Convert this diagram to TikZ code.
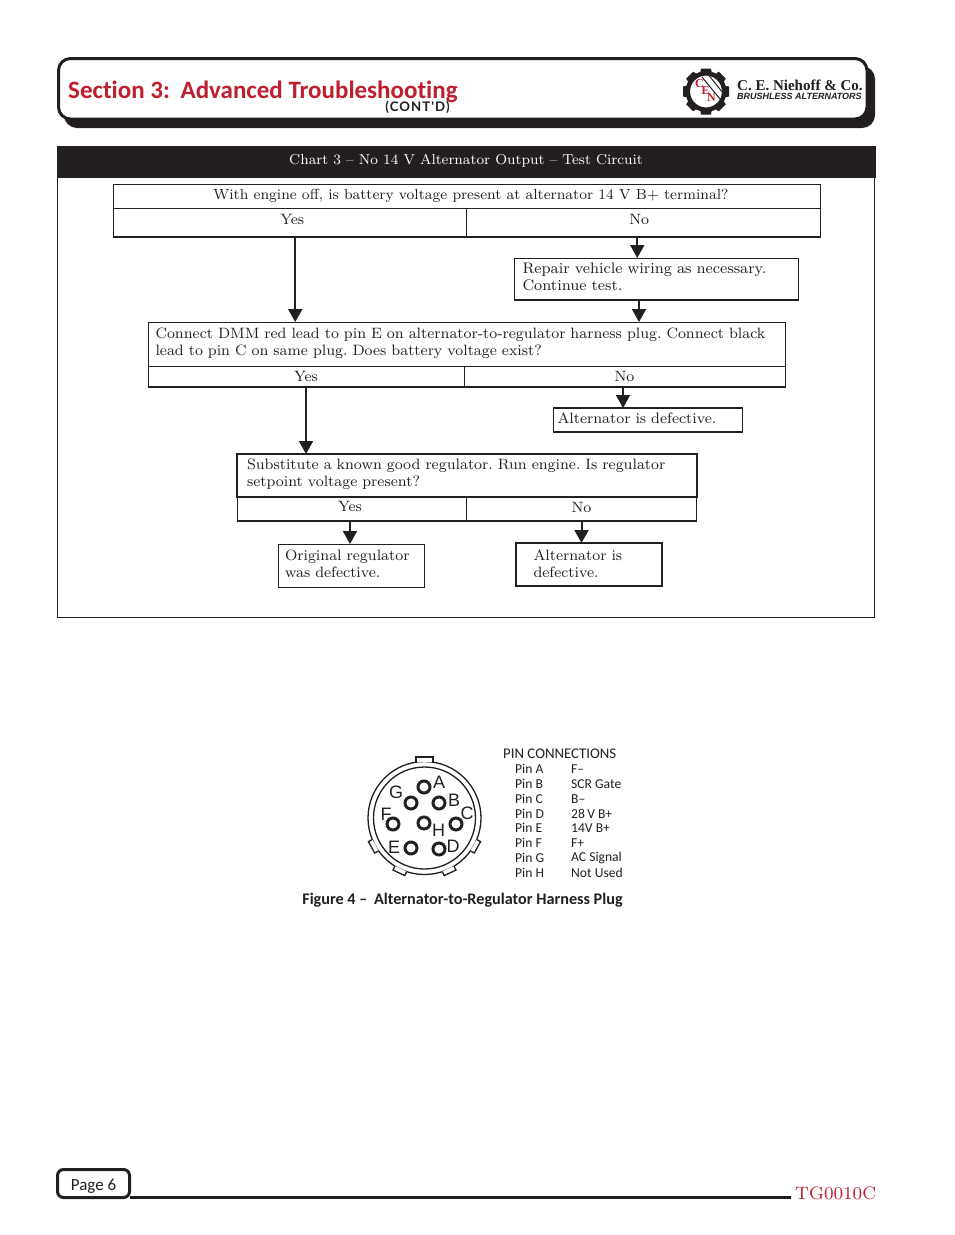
\documentclass[tikz,border=0pt]{standalone}
\usepackage{fontspec}
\usetikzlibrary{arrows.meta}
\setmainfont{lmroman8-regular.otf}
\newfontfamily\gillfont[Ligatures=CommonOff]{Carlito}
\newfontfamily\latofont[LetterSpace=8]{Lato}
\newfontfamily\arialfont{Liberation Sans}
\newfontfamily\timesfont{Liberation Serif}
\definecolor{inkdark}{HTML}{231F20}
\definecolor{sectred}{HTML}{BE1E2D}
\newcommand{\lift}[1]{\rule[-#1]{0pt}{#1}}
\frenchspacing

\tikzset{
  qbox/.style={draw=inkdark,rectangle,line width=0.9pt,inner sep=0pt,outer sep=0pt,
               font=\fontsize{15}{17}\selectfont,text=inkdark},
  textbox/.style={qbox,align=left,inner xsep=7pt},
  thickbox/.style={textbox,line width=2pt},
  heavy/.style={draw=inkdark,line width=2pt},
  flow/.style={heavy,-{Triangle[width=14pt,length=13pt]}},
  plug/.style={draw=inkdark,line width=1.3pt},
  pinhole/.style={draw=inkdark,circle,line width=3pt,minimum size=12pt,inner sep=0pt},
  pinname/.style={font=\arialfont\fontsize{18}{18}\selectfont,text=inkdark,inner sep=0pt},
  pintext/.style={font=\gillfont\fontsize{13.6}{13}\selectfont,text=inkdark,anchor=west,inner sep=0pt},
  logoletter/.style={inner sep=0pt,text=sectred,font=\timesfont\bfseries\fontsize{12}{12}\selectfont}}

\begin{document}
\begin{tikzpicture}[x=1pt,y=-1pt]
\useasboundingbox (0,0) rectangle (954,1235);

% page header
\fill [inkdark,rounded corners=13pt] (64,66) rectangle (875,128);
\draw [inkdark,fill=white,line width=3pt,rounded corners=12pt] (58.5,58.5) rectangle (867,119);
\node (section) at (68,91.5) [anchor=west,inner sep=0pt,text=sectred,font=\gillfont\bfseries\fontsize{25}{25}\selectfont] {Section 3:\hspace{5pt} Advanced Troubleshooting};
\node (contd) at (417.5,107.5) [inner sep=0pt,text=inkdark,font=\latofont\bfseries\fontsize{13.2}{12}\selectfont] {(CONT'D)};

% logo
\foreach \a in {0,45,...,315}
  \fill [inkdark,rotate around={\a:(706,91.5)}] (700,74) -- (701,68.5) -- (711,68.5) -- (712,74) -- cycle;
\draw [inkdark,fill=white,line width=4.5pt] (706,91.5) circle [radius=18.2pt];
\draw [inkdark,line width=1pt] (702,77) -- (720,99) (709,75.5) -- (723,93);
\node (logoc) at (699.5,84) [logoletter] {C};
\node (logoe) at (705.5,91) [logoletter] {E};
\node (logon) at (711.5,98) [logoletter] {N};
\fill [inkdark] (723.5,105) circle [radius=1pt];
\node (company) at (737,85) [anchor=west,inner sep=0pt,text=inkdark,font=\timesfont\bfseries\fontsize{15}{15}\selectfont] {C. E. Niehoff \& Co.};
\node (brushless) at (737,96.5) [anchor=west,inner sep=0pt,text=inkdark,font=\arialfont\bfseries\itshape\fontsize{9}{9}\selectfont] {BRUSHLESS ALTERNATORS};

% chart frame
\draw [inkdark,line width=0.9pt] (57,146) rectangle (874.5,617.5);
\node (chart) at (466,162) [fill=inkdark,minimum width=819pt,minimum height=32pt,inner sep=0pt,text=white,font=\fontsize{14.4}{17}\selectfont,text depth=6pt] {Chart 3 -- No 14 V Alternator Output -- Test Circuit};

% first question
\node (qone) at (466.5,196) [qbox,minimum width=707pt,minimum height=24pt,font=\fontsize{14.65}{17}\selectfont] {\hspace*{9pt}With engine off, is battery voltage present at alternator 14 V B+ terminal?};
\node (qoneyes) at (289.75,222.5) [qbox,minimum width=353.5pt,minimum height=29pt] {\hspace*{5pt}Yes\lift{7pt}};
\node (qoneno) at (643.25,222.5) [qbox,minimum width=353.5pt,minimum height=29pt] {No\hspace*{8pt}\lift{7pt}};
\draw [heavy] (qoneyes.south west) -- (qoneno.south east);
\node (repair) at (656.5,279) [textbox,minimum width=283pt,minimum height=42pt,text width=268pt,inner xsep=8pt,font=\fontsize{15.3}{17}\selectfont] {Repair vehicle wiring as necessary.\\Continue test.\lift{5pt}};
\draw [heavy] (repair.south west) -- (repair.south east);

% second question
\node (qtwo) at (466.5,344) [textbox,minimum width=637pt,minimum height=44pt,text width=622pt] {Connect DMM red lead to pin E on alternator-to-regulator harness plug. Connect black\\lead to pin C on same plug. Does battery voltage exist?\lift{5pt}};
\node (qtwoyes) at (306,376.5) [qbox,minimum width=316pt,minimum height=21pt] {Yes\lift{1pt}};
\node (qtwono) at (624.5,376.5) [qbox,minimum width=321pt,minimum height=21pt] {No};
\draw [heavy] (qtwoyes.south west) -- (qtwono.south east);
\node (defectone) at (648,420) [thickbox,minimum width=187pt,minimum height=24pt,text width=181pt,inner xsep=4pt,line width=1.5pt] {Alternator is defective.\lift{4pt}};

% third question
\node (qthree) at (467,475.5) [thickbox,line width=1.6pt,minimum width=460pt,minimum height=43pt,text width=440pt,inner xsep=10pt] {Substitute a known good regulator. Run engine. Is regulator\\setpoint voltage present?\lift{6pt}};
\node (qthreeyes) at (352,509) [qbox,line width=1.6pt,minimum width=229pt,minimum height=24pt] {\hspace*{-4pt}Yes\lift{6pt}};
\node (qthreeno) at (581.5,509) [qbox,line width=1.6pt,minimum width=230pt,minimum height=24pt] {No\lift{3pt}};
\node (original) at (351,565.5) [textbox,minimum width=146pt,minimum height=43pt,text width=132pt] {Original regulator\\was defective.\lift{4pt}};
\node (defecttwo) at (588.5,564.5) [thickbox,minimum width=146pt,minimum height=43pt,text width=110pt,inner xsep=18pt] {Alternator is\\defective.\lift{2pt}};

% connectors
\draw [flow] ([xshift=5.5pt]qoneyes.south) -- ([xshift=5.5pt]qoneyes.south |- qtwo.north);
\draw [flow] ([xshift=-6pt]qoneno.south) -- ([xshift=-6pt]qoneno.south |- repair.north);
\draw [flow] ([xshift=-17.5pt]repair.south) -- ([xshift=-17.5pt]repair.south |- qtwo.north);
\draw [flow] (qtwoyes.south) -- (qtwoyes.south |- qthree.north);
\draw [flow] ([xshift=-1.5pt]qtwono.south) -- ([xshift=-1.5pt]qtwono.south |- defectone.north);
\draw [flow] ([xshift=-2pt]qthreeyes.south) -- ([xshift=-2pt]qthreeyes.south |- original.north);
\draw [flow] (qthreeno.south) -- (qthreeno.south |- defecttwo.north);

% harness plug
\draw [plug] (424.5,818) circle [radius=56.5pt];
\draw [plug] (424.5,818) circle [radius=51pt];
\draw [plug,fill=white] (416,762) -- (416,757) -- (433,757) -- (433,762);
\foreach \a in {209,245,295,331}
  \draw [plug,fill=white,rotate around={\a-90:(424.5,818)}] (418,762) -- (418,757.5) -- (431,757.5) -- (431,762);
\foreach \pin/\x/\y in {A/424/787,G/411/803,B/439/803,F/393/824,H/424/823,C/456/824,E/411/848,D/439/849}
  \node (pin\pin) at (\x,\y) [pinhole] {};
\foreach \pin/\x/\y in {A/439/782,G/396/792,B/454/800,F/386/814,H/438.5/830,C/467/813,E/394/847,D/453/846}
  \node (name\pin) at (\x,\y) [pinname] {\pin};

% pin table
\node (pinhead) at (503,754) [pintext,font=\gillfont\fontsize{14.8}{13}\selectfont] {PIN CONNECTIONS};
\foreach \pin/\sig/\y in {A/F–/769,B/SCR Gate/784,C/B–/799,D/28\,V B+/814,E/14V B+/828,F/F+/843,G/AC Signal/858,H/Not Used/873}{
  \node (row\pin) at (515,\y) [pintext] {Pin \pin};
  \node (sig\pin) at (571,\y) [pintext] {\sig};
}
\node (caption) at (462.5,900) [inner sep=0pt,text=inkdark,font=\gillfont\bfseries\fontsize{16.2}{16}\selectfont] {Figure 4 –\hspace{3pt} Alternator-to-Regulator Harness Plug};

% page footer
\node (page) at (93.5,1183.5) [draw=inkdark,line width=3pt,rounded corners=6pt,minimum width=72pt,minimum height=28pt,inner sep=0pt,outer sep=0pt,text=inkdark,font=\gillfont\fontsize{17}{17}\selectfont] {\rule{0pt}{17pt}Page 6};
\coordinate (ruleend) at (791,1197);
\draw [inkdark,line width=3pt] (page.south east) ++(0,-0.5) -- (ruleend);
\node (docnum) at (795,1193.5) [anchor=west,inner sep=0pt,text=sectred,font=\fontsize{18}{17}\selectfont] {TG0010C};
\end{tikzpicture}
\end{document}
